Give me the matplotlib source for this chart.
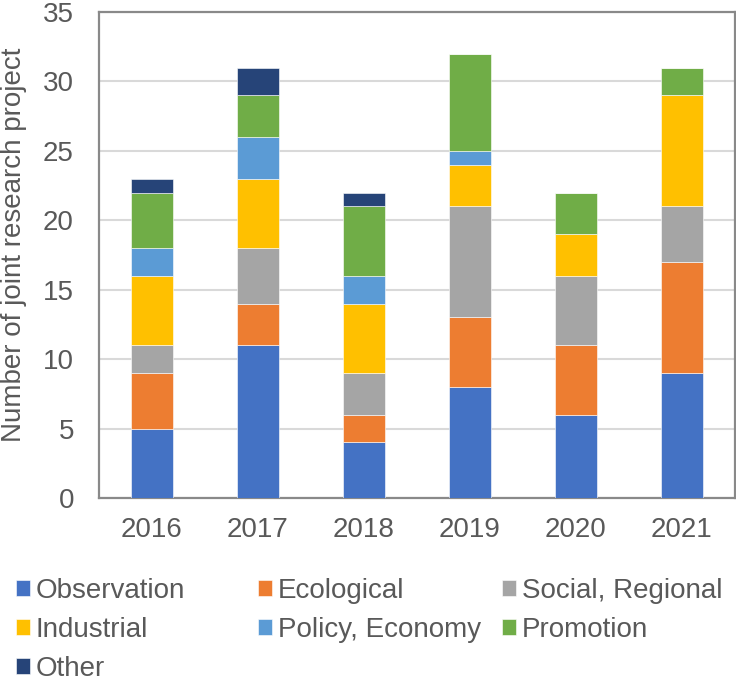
import matplotlib
matplotlib.use("Agg")
import matplotlib.pyplot as plt
import numpy as np

years = ["2016", "2017", "2018", "2019", "2020", "2021"]
observation = [5, 11, 4, 8, 6, 9]
ecological = [4, 3, 2, 5, 5, 8]
social = [2, 4, 3, 8, 5, 4]
industrial = [5, 5, 5, 3, 3, 8]
policy = [2, 3, 2, 1, 0, 0]
promotion = [4, 3, 5, 7, 3, 2]
other = [1, 2, 1, 0, 0, 0]

series = [
    ("Observation", observation, "#4472C4"),
    ("Ecological", ecological, "#ED7D31"),
    ("Social, Regional", social, "#A5A5A5"),
    ("Industrial", industrial, "#FFC000"),
    ("Policy, Economy", policy, "#5B9BD5"),
    ("Promotion", promotion, "#70AD47"),
    ("Other", other, "#264478"),
]

plt.rcParams['font.family'] = ['Liberation Sans', 'DejaVu Sans']
txt = "#595959"
fs = 20

fig = plt.figure(figsize=(7.36, 6.82), dpi=100)
ax = fig.add_axes([99/736, 1-498/682, 636/736, 486/682])

x = np.arange(len(years))
bottom = np.zeros(len(years))
handles = {}
for name, vals, col in series:
    v = np.array(vals, dtype=float)
    b = ax.bar(x, v, width=0.4, bottom=bottom, color=col, edgecolor="white", linewidth=0.4, zorder=3)
    handles[name] = b
    bottom += v

ax.set_xlim(-0.5, len(years) - 0.5)
ax.set_ylim(0, 35)
ax.set_yticks(np.arange(0, 36, 5))
ax.set_xticks(x)
ax.set_xticklabels(years)
ax.yaxis.grid(True, color="#D9D9D9", linewidth=1.5, zorder=0)
ax.set_axisbelow(True)
for s in ax.spines.values():
    s.set_color("#898989")
    s.set_linewidth(1.6)
ax.tick_params(axis="both", length=0, labelsize=fs, colors=txt)
ax.tick_params(axis="y", pad=18)
ax.tick_params(axis="x", pad=14)
fig.text(14/736, 1-245/682, "Number of joint research project", rotation=90,
         ha="center", va="center", fontsize=fs, color=txt)

cols = [["Observation", "Industrial", "Other"],
        ["Ecological", "Policy, Economy"],
        ["Social, Regional", "Promotion"]]
xs = [16, 258, 502]
for names, xp in zip(cols, xs):
    leg = fig.legend([handles[n] for n in names], names, loc="upper left",
                     bbox_to_anchor=(xp/736, 1-578/682), frameon=False,
                     fontsize=fs, labelcolor=txt, handlelength=0.52, handleheight=0.5,
                     handletextpad=0.2, borderpad=0, borderaxespad=0, labelspacing=0.47)

fig.savefig("out.png", dpi=100)
